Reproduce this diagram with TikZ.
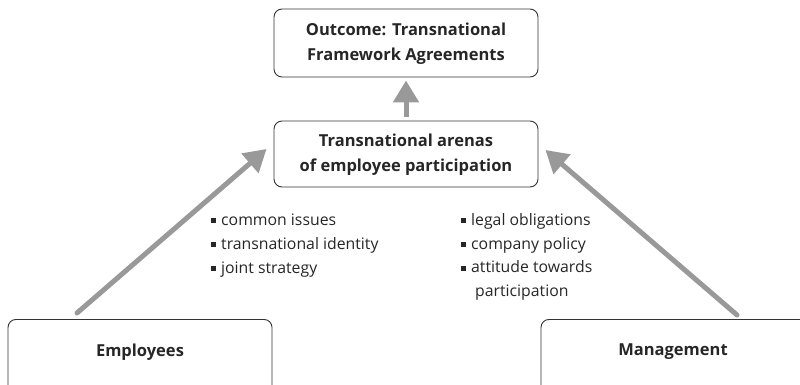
\documentclass[tikz,border=0pt]{standalone}
\usepackage{fontspec}
\setmainfont{Open Sans}
\usetikzlibrary{arrows.meta}
\newcommand{\sqb}{\raisebox{1.8pt}{\rule{5pt}{5pt}}\hspace{5pt}}
\tikzset{
  box/.style={draw=black!80, line width=0.9pt, rounded corners=8pt, inner sep=0pt, align=center},
  boxtext/.style={font=\fontsize{16.5}{25}\selectfont\bfseries, text=black!85, align=center, inner sep=0pt},
  item/.style={font=\fontsize{15.8}{24}\selectfont, text=black!85, anchor=base west, inner sep=0pt},
  arr/.style={draw=black!40, line width=5pt, -{Triangle[length=22pt,width=25pt]}}
}
\begin{document}
\begin{tikzpicture}[x=1pt,y=-1pt]
\useasboundingbox (0,0) rectangle (800,385);
\clip (0,0) rectangle (800,385);
\node[box, minimum width=264pt, minimum height=68pt] (top) at (406,43) {};
\node[boxtext] (toptext) at (406,44) {Outcome: Transnational\\Framework Agreements};
\node[box, minimum width=264pt, minimum height=66pt] (mid) at (406,154) {};
\node[boxtext] (midtext) at (406,155) {Transnational arenas\\of employee participation};
\node[box, minimum width=264pt, minimum height=90pt, anchor=north] (emp) at (140,319) {};
\node[boxtext] (emptext) at (140,352) {Employees};
\node[box, minimum width=269pt, minimum height=90pt, anchor=north] (man) at (675.5,319) {};
\node[boxtext] (mantext) at (673,352) {Management};

\node[item] (l1) at (211,225) {\sqb common issues};
\node[item] (l2) at (211,249) {\sqb transnational identity};
\node[item] (l3) at (211,273) {\sqb joint strategy};
\node[item] (r1) at (461,225) {\sqb legal obligations};
\node[item] (r2) at (461,249) {\sqb company policy};
\node[item] (r3) at (461,272.5) {\sqb attitude towards};
\node[item] (r4) at (475,296.5) {participation};

\draw[arr] ([shift={(0,-4)}]mid.north) -- ([shift={(0,3)}]top.south);
\draw[arr, line cap=round] ([shift={(-63,-6)}]emp.north) -- ([shift={(-7,-5)}]mid.west);
\draw[arr, line cap=round] ([shift={(61.5,-4)}]man.north) -- ([shift={(7,-4)}]mid.east);
\end{tikzpicture}
\end{document}
